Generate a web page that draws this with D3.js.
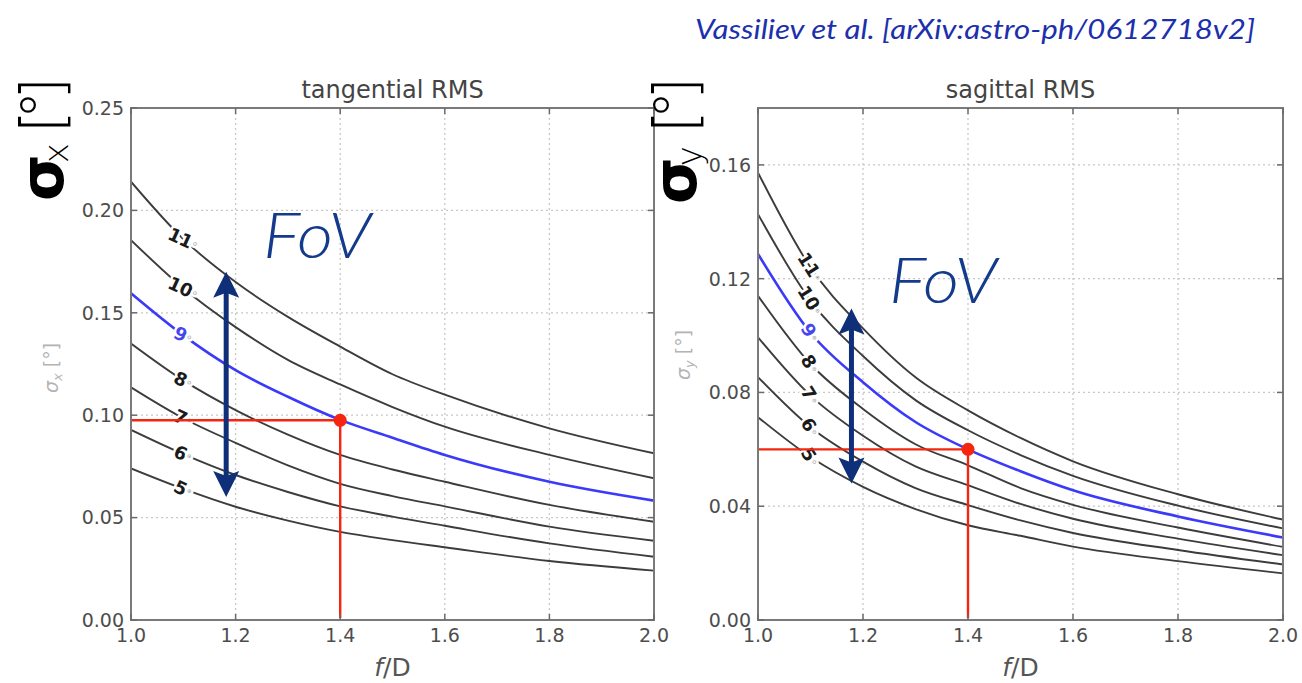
<!DOCTYPE html>
<html><head><meta charset="utf-8">
<script src="https://cdn.jsdelivr.net/npm/d3@7"></script>
<style>body{margin:0;background:#fff}svg{display:block}</style>
</head><body><svg id="c" width="1302" height="683"></svg>
<script>
// ---- data ----
const fD = [1.0, 1.1, 1.2, 1.3, 1.4, 1.5, 1.6, 1.8, 2.0];
const fovLevels = [11, 10, 9, 8, 7, 6, 5];
const highlightFov = 9;
// tangential RMS (deg) for each field of view
const tan11 = [0.214, 0.186, 0.165, 0.148, 0.1335, 0.120, 0.110, 0.0936, 0.0814];
const tan10 = [0.1855, 0.162, 0.143, 0.127, 0.115, 0.104, 0.0944, 0.0806, 0.0692];
const tan9  = [0.1595, 0.139, 0.122, 0.109, 0.0977, 0.089, 0.0806, 0.0675, 0.0583];
const tan8  = [0.135, 0.117, 0.1025, 0.0905, 0.0806, 0.0735, 0.0675, 0.0562, 0.048];
const tan7  = [0.1136, 0.0985, 0.0865, 0.0755, 0.0665, 0.0605, 0.0555, 0.0456, 0.0387];
const tan6  = [0.0928, 0.081, 0.0708, 0.0625, 0.0555, 0.0505, 0.046, 0.0374, 0.0309];
const tan5  = [0.074, 0.064, 0.0553, 0.0485, 0.043, 0.039, 0.0355, 0.0288, 0.0241];
// sagittal RMS (deg)
const sag11 = [0.1573, 0.124, 0.1025, 0.0853, 0.0737, 0.064, 0.0558, 0.0442, 0.0353];
const sag10 = [0.1427, 0.1123, 0.0928, 0.0773, 0.0667, 0.058, 0.0507, 0.0402, 0.0322];
const sag9  = [0.1287, 0.101, 0.0836, 0.0696, 0.0600, 0.0523, 0.0456, 0.0364, 0.0290];
const sag8  = [0.114, 0.090, 0.0742, 0.0618, 0.0544, 0.0464, 0.0405, 0.0325, 0.0257];
const sag7  = [0.0994, 0.0789, 0.0648, 0.054, 0.0474, 0.0408, 0.0356, 0.0286, 0.0228];
const sag6  = [0.0854, 0.0678, 0.0557, 0.0464, 0.0404, 0.035, 0.0306, 0.0246, 0.0195];
const sag5  = [0.0713, 0.0573, 0.0468, 0.039, 0.0333, 0.0296, 0.0258, 0.0207, 0.0164];
const labelAt = 1.1;
const xTicks = [1.0, 1.2, 1.4, 1.6, 1.8, 2.0];
const tanYTicks = [0.00, 0.05, 0.10, 0.15, 0.20, 0.25];
const sagYTicks = [0.00, 0.04, 0.08, 0.12, 0.16];
const tanMarker = [1.4, 0.0975];
const sagMarker = [1.4, 0.0600];
const tanArrow = [1.182, 0.060, 0.170];
const sagArrow = [1.178, 0.048, 0.1095];
const titles = ["tangential RMS", "sagittal RMS"];
const credit = "Vassiliev et al. [arXiv:astro-ph/0612718v2]";

const tanSeries = [tan11, tan10, tan9, tan8, tan7, tan6, tan5];
const sagSeries = [sag11, sag10, sag9, sag8, sag7, sag6, sag5];

const svg = d3.select("#c");
const NAVY = "#0f2f78";

function panel(cfg) {
  const x = d3.scaleLinear().domain([1.0, 2.0]).range([cfg.x0, cfg.x1]);
  const y = d3.scaleLinear().domain([0, cfg.ymax]).range([620, 108]);
  const g = svg.append("g");
  const clipId = "clip" + cfg.id;
  svg.append("clipPath").attr("id", clipId).append("rect")
    .attr("x", cfg.x0).attr("y", 108).attr("width", cfg.x1 - cfg.x0).attr("height", 512);

  // grid
  g.append("g").selectAll("line").data(xTicks.slice(1, -1)).join("line")
    .attr("x1", d => x(d)).attr("x2", d => x(d)).attr("y1", 108).attr("y2", 620)
    .attr("stroke", "#c8c8c8").attr("stroke-width", 1.3).attr("stroke-dasharray", "2,3");
  g.append("g").selectAll("line").data(cfg.yTicks.slice(1)).join("line")
    .attr("y1", d => y(d)).attr("y2", d => y(d)).attr("x1", cfg.x0).attr("x2", cfg.x1)
    .attr("stroke", "#c8c8c8").attr("stroke-width", 1.3).attr("stroke-dasharray", "2,3");

  // curves
  const line = d3.line().x((d, i) => x(fD[i])).y(d => y(d)).curve(d3.curveMonotoneX);
  const cg = g.append("g").attr("clip-path", `url(#${clipId})`);
  cfg.series.forEach((s, k) => {
    const lvl = fovLevels[k];
    cg.append("path").attr("d", line(s)).attr("fill", "none")
      .attr("stroke", lvl === highlightFov ? "#3a3af8" : "#3c3c3c")
      .attr("stroke-width", lvl === highlightFov ? 2.6 : 1.9);
  });

  // contour labels
  const li = fD.indexOf(labelAt);
  cfg.series.forEach((s, k) => {
    const lvl = fovLevels[k];
    const t = g.append("text")
      .attr("transform", `translate(${x(labelAt)},${y(s[li])}) rotate(${cfg.labelAngle})`)
      .attr("text-anchor", "middle").attr("dy", "0.36em")
      .attr("font-family", "DejaVu Sans").attr("font-weight", "bold").attr("font-size", 18)
      .attr("fill", lvl === highlightFov ? "#4646f0" : "#1a1a1a")
      .attr("stroke", "#fff").attr("stroke-width", 5).attr("paint-order", "stroke")
      .attr("stroke-linejoin", "round");
    t.append("tspan").text(lvl);
    t.append("tspan").text("°").attr("font-weight", "normal").attr("font-size", 12)
      .attr("fill", "#b8b8b8");
  });

  // red guide lines + marker
  const [mx, my] = cfg.marker;
  g.append("line").attr("x1", cfg.x0).attr("x2", x(mx)).attr("y1", y(my)).attr("y2", y(my))
    .attr("stroke", "#f5260f").attr("stroke-width", 2.4);
  g.append("line").attr("x1", x(mx)).attr("x2", x(mx)).attr("y1", y(my)).attr("y2", 618)
    .attr("stroke", "#f5260f").attr("stroke-width", 2.4);
  g.append("circle").attr("cx", x(mx)).attr("cy", y(my)).attr("r", 6.5).attr("fill", "#f5260f");

  // frame & ticks
  g.append("rect").attr("x", cfg.x0).attr("y", 108).attr("width", cfg.x1 - cfg.x0).attr("height", 512)
    .attr("fill", "none").attr("stroke", "#7a7a7a").attr("stroke-width", 2);
  const tk = g.append("g").attr("stroke", "#6a6a6a").attr("stroke-width", 1.5);
  xTicks.forEach(v => {
    tk.append("line").attr("x1", x(v)).attr("x2", x(v)).attr("y1", 620).attr("y2", 614);
    tk.append("line").attr("x1", x(v)).attr("x2", x(v)).attr("y1", 108).attr("y2", 114);
  });
  cfg.yTicks.forEach(v => {
    tk.append("line").attr("x1", cfg.x0).attr("x2", cfg.x0 + 6).attr("y1", y(v)).attr("y2", y(v));
    tk.append("line").attr("x1", cfg.x1).attr("x2", cfg.x1 - 6).attr("y1", y(v)).attr("y2", y(v));
  });

  // tick labels
  const tf = d3.format(".1f"), yf = d3.format(".2f");
  g.append("g").selectAll("text").data(xTicks).join("text")
    .attr("x", d => x(d)).attr("y", 642).attr("text-anchor", "middle")
    .attr("font-family", "DejaVu Sans").attr("font-size", 19).attr("fill", "#4d4d4d")
    .text(d => tf(d));
  g.append("g").selectAll("text").data(cfg.yTicks).join("text")
    .attr("x", cfg.x0 - 7).attr("y", d => y(d)).attr("dy", "0.36em").attr("text-anchor", "end")
    .attr("font-family", "DejaVu Sans").attr("font-size", 19).attr("fill", "#4d4d4d")
    .text(d => yf(d));

  // title and x label
  g.append("text").attr("x", (cfg.x0 + cfg.x1) / 2).attr("y", 98).attr("text-anchor", "middle")
    .attr("font-family", "DejaVu Sans").attr("font-size", 24).attr("fill", "#444").text(cfg.title);
  const xl = g.append("text").attr("x", (cfg.x0 + cfg.x1) / 2).attr("y", 676).attr("text-anchor", "middle")
    .attr("font-family", "DejaVu Sans").attr("font-size", 25).attr("fill", "#555");
  xl.append("tspan").attr("font-style", "italic").text("f");
  xl.append("tspan").text("/D");

  // small matplotlib y label
  const yl = g.append("text").attr("transform", `translate(${cfg.ylabX},${cfg.ylabY}) rotate(-90)`)
    .attr("text-anchor", "middle").attr("font-family", "DejaVu Sans").attr("font-size", 19)
    .attr("fill", "#b4b4b4");
  yl.append("tspan").attr("font-style", "italic").text("σ");
  yl.append("tspan").attr("font-style", "italic").attr("font-size", 13).attr("dy", 4).text(cfg.sub);
  yl.append("tspan").attr("dy", -4).text(" [°]");

  // FoV arrow
  const [ax, ay0, ay1] = cfg.arrow;
  const X = x(ax), Yb = y(ay0), Yt = y(ay1);
  g.append("line").attr("x1", X).attr("x2", X).attr("y1", Yt + 18).attr("y2", Yb - 18)
    .attr("stroke", NAVY).attr("stroke-width", 5);
  g.append("path").attr("d", `M${X},${Yt} L${X - 13},${Yt + 26} L${X},${Yt + 21} L${X + 13},${Yt + 26} Z`).attr("fill", NAVY);
  g.append("path").attr("d", `M${X},${Yb} L${X - 13},${Yb - 26} L${X},${Yb - 21} L${X + 13},${Yb - 26} Z`).attr("fill", NAVY);

  // FoV text
  svg.append("text").attr("x", cfg.fovX).attr("y", cfg.fovY)
    .attr("font-family", "Lato, 'Open Sans', sans-serif").attr("font-style", "italic").attr("font-weight", 300)
    .attr("font-size", 64).attr("fill", "#143a8c")
    .attr("textLength", 108).attr("lengthAdjust", "spacingAndGlyphs").text("FoV");

  // big axis label
  const bl = svg.append("g").attr("transform", `translate(${cfg.bigX},${cfg.bigY}) rotate(-90)`);
  const bt = bl.append("text").attr("font-family", "DejaVu Sans").attr("fill", "#000");
  bt.append("tspan").attr("font-weight", "bold").attr("font-size", 60).text("σ");
  bt.append("tspan").attr("font-size", 34).attr("font-weight", 200).attr("dx", -9).attr("dy", 5).text(cfg.bigSub);
  bl.append("text").attr("x", cfg.brX).attr("y", 0).attr("font-family", "DejaVu Sans").attr("font-weight", 200)
    .attr("font-size", 58).attr("fill", "#000").attr("textLength", 56).attr("lengthAdjust", "spacing").text("[°]");
}

panel({id: 0, x0: 131, x1: 654, ymax: 0.25, yTicks: tanYTicks, series: tanSeries, labelAngle: 25,
  marker: tanMarker, arrow: tanArrow, title: titles[0], sub: "x", ylabX: 58, ylabY: 368,
  fovX: 263, fovY: 258, bigX: 63, bigY: 201, bigSub: "x", brX: 68});
panel({id: 1, x0: 758, x1: 1283, ymax: 0.18, yTicks: sagYTicks, series: sagSeries, labelAngle: 58,
  marker: sagMarker, arrow: sagArrow, title: titles[1], sub: "y", ylabX: 690, ylabY: 355,
  fovX: 889, fovY: 303, bigX: 696, bigY: 204, bigSub: "y", brX: 71});

svg.append("text").attr("x", 695).attr("y", 39)
  .attr("font-family", "Lato, 'Open Sans', sans-serif").attr("font-style", "italic")
  .attr("font-size", 27).attr("fill", "#1c30ad").attr("textLength", 560).attr("lengthAdjust", "spacingAndGlyphs")
  .text(credit);
</script></body></html>
